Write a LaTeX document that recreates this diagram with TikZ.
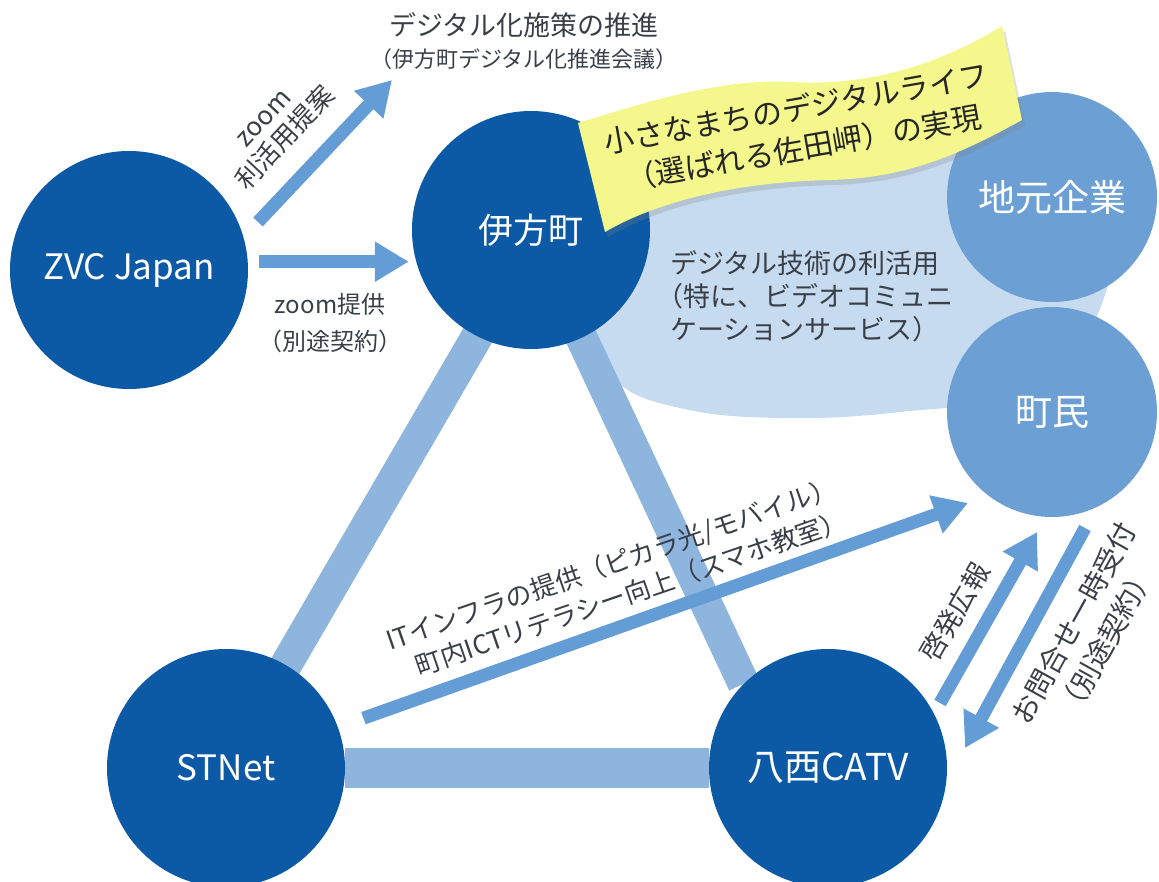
\documentclass[tikz,border=0pt]{standalone}
\usepackage{fontspec}
\setmainfont{Noto Sans CJK JP}
\usetikzlibrary{arrows.meta,backgrounds,shadows}

\definecolor{darkblue}{HTML}{0C5AA6}
\definecolor{midblue}{HTML}{6C9FD3}
\definecolor{bandblue}{HTML}{8DB5DE}
\definecolor{arrowblue}{HTML}{649CD6}
\definecolor{blobblue}{HTML}{C6DBEF}
\definecolor{notecol}{HTML}{F4F78C}
\definecolor{txtgray}{HTML}{3A3F47}

\newcommand{\fsz}[2]{\fontsize{#1}{#2}\selectfont}

\begin{document}
\begin{tikzpicture}[x=1pt,y=-1pt,
      actor/.style={circle, fill=darkblue, minimum size=238pt, inner sep=0pt, text=white, font=\fsz{35}{40}},
      partner/.style={circle, fill=midblue, minimum size=210pt, inner sep=0pt, text=white, font=\fsz{37}{42}},
      lbl/.style={text=txtgray, align=center, inner sep=1pt},
      band/.style={line width=32pt, bandblue},
      arr/.style={line width=13pt, arrowblue, -{Triangle[length=34pt,width=38pt]}}
      ]
      \useasboundingbox (0,0) rectangle (1159,881);
      % actors
      \node (zvc) [actor] at (129,270) {ZVC Japan};
      \node (ika) [actor] at (531,230) {伊方町};
      \node (stn) [actor] at (226,768) {STNet};
      \node (cat) [actor, font=\fsz{37}{42}] at (828,768) {八西CATV};
      \node (jim) [partner] at (1052,197) {地元企業};
      \node (cho) [partner] at (1052,412) {町民};
      % background shapes
      \begin{scope}[on background layer]
        \fill[blobblue] plot[smooth cycle, tension=0.7] coordinates {(588,322) (615,380) (680,408) (780,418) (900,412) (1010,392) (1095,320) (1105,200) (1020,140) (850,118) (680,150) (610,235)};
        \draw[band] ([xshift=8pt]ika.center) -- (stn.center);
        \draw[band] (ika.center) -- (cat.north west);
        \draw[band, line width=40pt] (stn) -- (cat);
      \end{scope}
      % texts
      \node (suisin1) [lbl, font=\fsz{27}{32}] at (524,25) {デジタル化施策の推進};
      \node (suisin2) [lbl, font=\fsz{22}{28}] at (524,59) {（伊方町デジタル化推進会議）};
      \node (teian) [lbl, rotate=47, font=\fsz{26}{30}] at (276,130) {zoom\\利活用提案};
      \node (teikyo) [lbl, font=\fsz{24}{37}] at (330,323) {zoom提供\\（別途契約）};
      \node (katsuyo) [lbl, font=\fsz{27}{33}] at (805,296) {デジタル技術の利活用\\（特に、ビデオコミュニ\\ケーションサービス）};
      \node (infra) [lbl, rotate=19, font=\fsz{26}{34}] at (617,580) {ITインフラの提供（ピカラ光/モバイル）\\\hspace*{18pt}町内ICTリテラシー向上（スマホ教室）};
      \node (keihatsu) [lbl, rotate=60, font=\fsz{27}{30}] at (955,612) {啓発広報};
      \node (toiawase) [lbl, rotate=61, font=\fsz{28}{37}] at (1090,632) {お問合せ一時受付\\（別途契約）};
      % arrows
      \coordinate (ps) at (258,222);
      \coordinate (pt) at (392,80);
      \coordinate (itt) at (968,503);
      \coordinate (kb1) at (940,703);
      \coordinate (kb2) at (1037,532);
      \coordinate (ta1) at (1085,528);
      \coordinate (ta2) at (965,748);
      \draw[arr] (ps) -- (pt);
      \draw[arr, shorten <=11pt, shorten >=3pt] (zvc.4) -- (zvc.4 -| ika.west);
      \draw[arr, shorten <=27pt] (stn.20) -- (itt);
      \draw[arr] (kb1) -- (kb2);
      \draw[arr] (ta1) -- (ta2);
      % note
      \fill[notecol, drop shadow={shadow xshift=3pt, shadow yshift=-5pt, opacity=0.25, fill=gray}]
        (578,123) .. controls (640,104) and (720,78) .. (790,82)
        .. controls (860,86) and (930,70) .. (1002,26) -- (1022,120)
        .. controls (950,160) and (900,178) .. (830,180)
        .. controls (740,182) and (660,200) .. (605,232) -- cycle;
      \node (goal) [rotate=10, align=center, text=black!85, font=\fsz{30}{40}] at (800,128) {小さなまちのデジタルライフ\\（選ばれる佐田岬）の実現};
    \end{tikzpicture}
\end{document}
